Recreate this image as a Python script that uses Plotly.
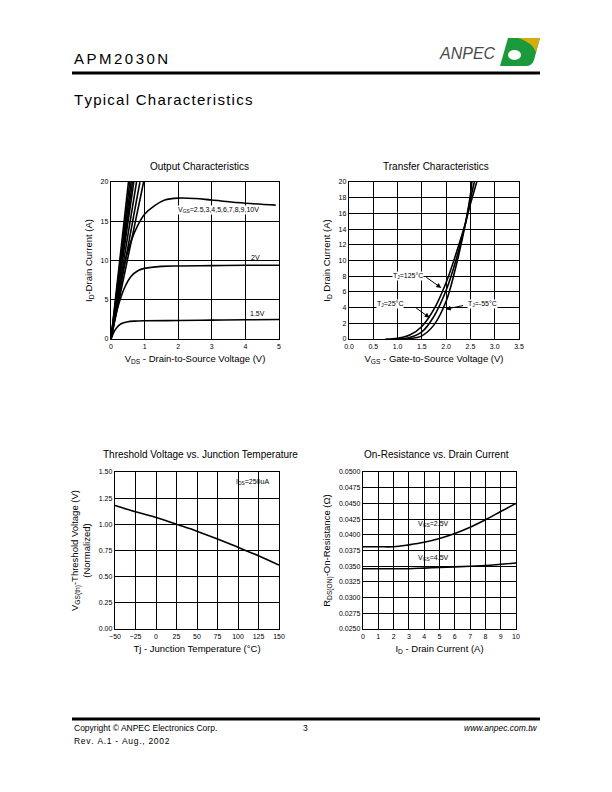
import plotly.graph_objects as go

# ---- Output Characteristics data (VDS, ID) ----
out_vds_15 = [0, 0.1, 0.2, 0.3, 0.5, 0.7, 1.0, 2.0, 3.0, 4.0, 5.0]
out_id_15 = [0, 1.0, 1.6, 1.95, 2.2, 2.28, 2.32, 2.35, 2.4, 2.45, 2.48]
out_vds_20 = [0, 0.1, 0.2, 0.4, 0.6, 0.8, 1.0, 1.5, 2.0, 3.0, 4.0, 5.0]
out_id_20 = [0, 2.2, 4.0, 6.5, 8.0, 8.7, 9.0, 9.25, 9.3, 9.35, 9.4, 9.4]
out_vds_25 = [0, 0.2, 0.4, 0.6, 0.8, 1.0, 1.3, 1.6, 2.0, 2.5, 3.0, 4.0, 4.9]
out_id_25 = [0, 5.0, 9.5, 12.5, 14.5, 15.9, 17.0, 17.7, 17.95, 17.9, 17.7, 17.3, 17.05]
# VDS at which the steep curves (VGS = 3..10 V) reach 20 A
out_steep_vgs = [3, 4, 5, 6, 7, 8, 9, 10]
out_steep_vds20 = [0.97, 0.86, 0.76, 0.68, 0.64, 0.60, 0.56, 0.52]

# ---- Transfer Characteristics data (VGS, ID) ----
tr_vgs_125 = [0.75, 1.0, 1.25, 1.5, 1.75, 2.0, 2.2, 2.4, 2.5, 2.63]
tr_id_125 = [0, 0.1, 0.5, 1.6, 3.8, 7.2, 10.8, 14.8, 17.2, 20]
tr_vgs_25 = [1.0, 1.25, 1.5, 1.75, 2.0, 2.2, 2.4, 2.5, 2.58]
tr_id_25 = [0, 0.2, 0.9, 2.9, 6.2, 10.0, 14.8, 17.8, 20]
tr_vgs_m55 = [1.2, 1.4, 1.5, 1.75, 2.0, 2.2, 2.4, 2.5, 2.53]
tr_id_m55 = [0, 0.2, 0.4, 1.8, 4.8, 9.2, 14.8, 18.4, 20]

# ---- Threshold voltage vs junction temperature ----
th_tj = [-50, -25, 0, 25, 50, 75, 100, 125, 150]
th_vgs = [1.18, 1.12, 1.065, 1.0, 0.935, 0.86, 0.78, 0.70, 0.61]

# ---- On-resistance vs drain current ----
rds_id = [0, 1, 2, 3, 4, 5, 6, 7, 8, 9, 10]
rds_25 = [0.0381, 0.0381, 0.0381, 0.0384, 0.0388, 0.0394, 0.0402, 0.0412, 0.0424, 0.0437, 0.0450]
rds_45 = [0.0346, 0.0346, 0.0346, 0.0346, 0.0347, 0.0348, 0.0349, 0.0350, 0.0351, 0.0353, 0.0355]

SANS = "Liberation Sans, Arial, sans-serif"
W, H = 612, 792
OFF = 8  # page body margin


def px(x):
    return (x - OFF) / W


def py(y):
    return 1 - (y - OFF) / H


fig = go.Figure()
line = dict(color="black", width=1.6)

# output characteristics
for xs, ys in [(out_vds_15, out_id_15), (out_vds_20, out_id_20), (out_vds_25, out_id_25)]:
    fig.add_trace(go.Scatter(x=xs, y=ys, mode="lines", line=dict(shape="spline", **line),
                             xaxis="x", yaxis="y"))
for v in out_steep_vds20:
    fig.add_trace(go.Scatter(x=[0, v], y=[0, 20], mode="lines", line=line, xaxis="x", yaxis="y"))

# transfer characteristics
for xs, ys in [(tr_vgs_125, tr_id_125), (tr_vgs_25, tr_id_25), (tr_vgs_m55, tr_id_m55)]:
    fig.add_trace(go.Scatter(x=xs, y=ys, mode="lines", line=dict(shape="spline", **line),
                             xaxis="x2", yaxis="y2"))

# threshold
fig.add_trace(go.Scatter(x=th_tj, y=th_vgs, mode="lines", line=dict(shape="spline", **line),
                         xaxis="x3", yaxis="y3"))

# on-resistance
for ys in [rds_25, rds_45]:
    fig.add_trace(go.Scatter(x=rds_id, y=ys, mode="lines", line=dict(shape="spline", **line),
                             xaxis="x4", yaxis="y4"))


def ax(domain, rng, dtick, title, tickfmt=None, standoff=6):
    d = dict(domain=domain, range=rng, dtick=dtick, tick0=rng[0], showgrid=True,
             gridcolor="black", gridwidth=1.4, showline=True, linecolor="black",
             linewidth=1.4, mirror=True, zeroline=False, ticks="", automargin=False,
             tickfont=dict(family=SANS, size=7, color="black"),
             title=dict(text=title, font=dict(family=SANS, size=9.5, color="black"),
                        standoff=standoff))
    if tickfmt:
        d["tickformat"] = tickfmt
    return d


fig.update_layout(
    width=W, height=H, margin=dict(l=0, r=0, t=0, b=0, pad=0, autoexpand=False),
    paper_bgcolor="white", plot_bgcolor="white", showlegend=False,
    xaxis=ax([px(111), px(279)], [0, 5], 1, "V<sub>DS</sub> - Drain-to-Source Voltage (V)"),
    yaxis=ax([py(339), py(182)], [0, 20], 5, "I<sub>D</sub>-Drain Current (A)"),
    xaxis2=dict(ax([px(349), px(519)], [0, 3.5], 0.5, "V<sub>GS</sub> - Gate-to-Source Voltage (V)", ".1f"), anchor="y2"),
    yaxis2=dict(ax([py(339), py(182)], [0, 20], 2, "I<sub>D</sub> Drain Current (A)"), anchor="x2"),
    xaxis3=dict(ax([px(115), px(279)], [-50, 150], 25, "Tj - Junction Temperature (°C)"), anchor="y3"),
    yaxis3=dict(ax([py(629), py(472)], [0, 1.5], 0.25,
                   "V<sub>GS(th)</sub>-Threshold Voltage (V)<br>(Normalized)", ".2f"), anchor="x3"),
    xaxis4=dict(ax([px(363), px(516)], [0, 10], 1, "I<sub>D</sub> - Drain Current (A)"), anchor="y4"),
    yaxis4=dict(ax([py(629), py(472)], [0.025, 0.05], 0.0025,
                   "R<sub>DS(ON)</sub>-On-Resistance (Ω)", ".4f"), anchor="x4"),
)

C = dict(xanchor="center", yanchor="middle", showarrow=False)
ann = []
titles = [("Output Characteristics", 199, 166), ("Transfer Characteristics", 436, 166),
          ("Threshold Voltage vs. Junction Temperature", 200, 454),
          ("On-Resistance vs. Drain Current", 437, 454)]
for t, x, y in titles:
    ann.append(dict(text=t, x=px(x), y=py(y), xref="paper", yref="paper",
                    font=dict(family=SANS, size=10, color="black"), **C))

small = dict(family=SANS, size=7, color="black")
# curve labels
ann += [
    dict(text="V<sub>GS</sub>=2.5,3,4,5,6,7,8,9,10V", x=3.2, y=16.4, xref="x", yref="y",
         font=small, bgcolor="white", borderpad=0, **C),
    dict(text="2V", x=4.3, y=10.35, xref="x", yref="y", font=small, **C),
    dict(text="1.5V", x=4.35, y=3.3, xref="x", yref="y", font=small, **C),
    dict(text="T<sub>J</sub>=125°C", x=1.22, y=8.05, xref="x2", yref="y2",
         font=small, bgcolor="white", borderpad=0, **C),
    dict(text="T<sub>J</sub>=25°C", x=0.85, y=4.5, xref="x2", yref="y2",
         font=small, bgcolor="white", borderpad=0, **C),
    dict(text="T<sub>J</sub>=-55°C", x=2.75, y=4.5, xref="x2", yref="y2",
         font=small, bgcolor="white", borderpad=0, **C),
    dict(text="I<sub>DS</sub>=250uA", x=118, y=1.40, xref="x3", yref="y3", font=small, **C),
    dict(text="V<sub>GS</sub>=2.5V", x=4.6, y=0.0417, xref="x4", yref="y4", font=small, **C),
    dict(text="V<sub>GS</sub>=4.5V", x=4.6, y=0.0363, xref="x4", yref="y4", font=small, **C),
]
# arrows in transfer chart
for tip, tail in [((1.9, 6.5), (1.56, 8.0)), ((1.66, 2.7), (1.35, 4.1)), ((1.99, 3.8), (2.38, 4.3))]:
    ann.append(dict(text="", x=tip[0], y=tip[1], ax=tail[0], ay=tail[1], xref="x2", yref="y2",
                    axref="x2", ayref="y2", showarrow=True, arrowhead=2, arrowsize=1,
                    arrowwidth=1, arrowcolor="black"))

# page header / footer
HS = "\u200a"
SIX = "\u2006"
L = dict(xanchor="left", yanchor="middle", showarrow=False, xref="paper", yref="paper")
foot = dict(family=SANS, size=8.5, color="black")
ann += [
    dict(text=SIX.join("APM2030N"), x=px(72), y=py(58),
         font=dict(family=SANS, size=15, color="black"), **L),
    dict(text=HS.join("Typical Characteristics"), x=px(72), y=py(99),
         font=dict(family=SANS, size=15, color="black"), **L),
    dict(text="<i>ANPEC</i>", x=px(498), y=py(54), xref="paper", yref="paper",
         xanchor="right", yanchor="middle", showarrow=False,
         font=dict(family=SANS, size=16, color="#4a4a4a")),
    dict(text="Copyright © ANPEC Electronics Corp.", x=px(72), y=py(728), font=foot, **L),
    dict(text=HS.join("Rev. A.1 - Aug., 2002"), x=px(72), y=py(741), font=foot, **L),
    dict(text="3", x=px(305), y=py(728), xref="paper", yref="paper", font=foot, **C),
    dict(text="<i>www.anpec.com.tw</i>", x=px(540), y=py(728), xref="paper", yref="paper",
         xanchor="right", yanchor="middle", showarrow=False, font=foot),
]
fig.update_layout(annotations=ann)

shapes = [
    dict(type="line", xref="paper", yref="paper", x0=px(72), x1=px(540), y0=py(73), y1=py(73),
         line=dict(color="black", width=3)),
    dict(type="line", xref="paper", yref="paper", x0=px(72), x1=px(540), y0=py(719), y1=py(719),
         line=dict(color="black", width=3)),
    # logo
    dict(type="path", xref="paper", yref="paper",
         path=f"M {px(508)} {py(38)} L {px(540)} {py(38)} L {px(534)} {py(60)} "
              f"Q {px(532)} {py(66)} {px(526)} {py(66)} L {px(500)} {py(66)} Z",
         fillcolor="#1a9a3a", line=dict(width=0)),
    dict(type="path", xref="paper", yref="paper",
         path=f"M {px(518)} {py(38)} L {px(540)} {py(38)} L {px(536)} {py(52)} "
              f"Q {px(532)} {py(42)} {px(518)} {py(38)} Z",
         fillcolor="#d4ac0d", line=dict(width=0)),
    dict(type="circle", xref="paper", yref="paper", x0=px(508), x1=px(521), y0=py(60), y1=py(50),
         fillcolor="white", line=dict(width=0)),
]
fig.update_layout(shapes=shapes)

fig.write_html("out.html")
